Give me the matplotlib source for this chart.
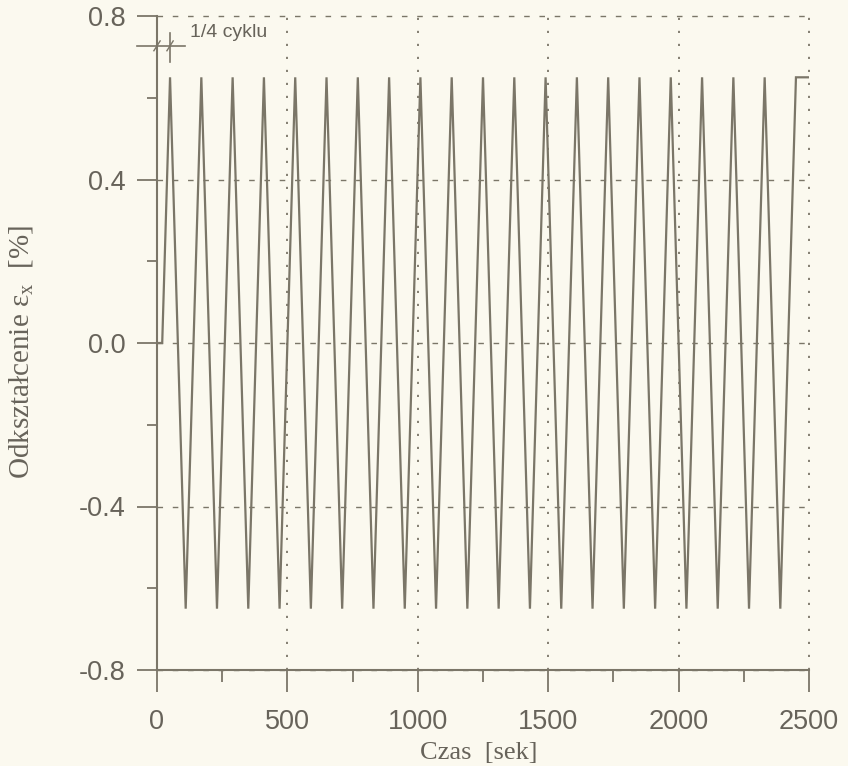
import matplotlib
matplotlib.use("Agg")
import matplotlib.pyplot as plt
from matplotlib.ticker import MultipleLocator

# ---- data ----
start_time = [0, 20]            # flat part at zero before loading starts
start_strain = [0.0, 0.0]
peak_times = [50, 170, 290, 410, 530, 650, 770, 890, 1010, 1130,
              1250, 1370, 1490, 1610, 1730, 1850, 1970, 2090, 2210, 2330]
trough_times = [110, 230, 350, 470, 590, 710, 830, 950, 1070, 1190,
                1310, 1430, 1550, 1670, 1790, 1910, 2030, 2150, 2270, 2390]
peak_strain = 0.65
trough_strain = -0.65
end_time = [2450, 2500]
end_strain = [0.65, 0.65]

x_ticks = [0, 500, 1000, 1500, 2000, 2500]
y_ticks = [-0.8, -0.4, 0.0, 0.4, 0.8]

# build the polyline
t = list(start_time)
e = list(start_strain)
for p, q in zip(peak_times, trough_times):
    t += [p, q]
    e += [peak_strain, trough_strain]
t += end_time
e += end_strain

# ---- style ----
BG = "#fbf9ef"
LINE = "#7b7668"
TXT = "#67635a"

fig = plt.figure(figsize=(8.48, 7.66), dpi=100, facecolor=BG)
ax = fig.add_axes([157/848, 96/766, 652/848, 654/766])
ax.set_facecolor(BG)

ax.plot(t, e, color=LINE, lw=1.6, solid_joinstyle="miter", zorder=3)

ax.set_xlim(0, 2500)
ax.set_ylim(-0.8, 0.8)
ax.set_xticks(x_ticks)
ax.set_yticks(y_ticks)
ax.xaxis.set_minor_locator(MultipleLocator(250))
ax.yaxis.set_minor_locator(MultipleLocator(0.2))
ax.set_xticklabels([str(v) for v in x_ticks])
ax.set_yticklabels([f"{v:.1f}" for v in y_ticks])

for s in ["top", "right"]:
    ax.spines[s].set_visible(False)
for s in ["left", "bottom"]:
    ax.spines[s].set_color(LINE)
    ax.spines[s].set_linewidth(1.5)
    ax.spines[s].set_zorder(4)

ax.tick_params(axis="x", which="major", direction="out", length=16, width=1.3,
               color=LINE, pad=12, labelcolor=TXT, labelsize=19.5)
ax.tick_params(axis="x", which="minor", direction="out", length=8.5, width=1.3,
               color=LINE)
ax.tick_params(axis="y", which="major", direction="out", length=14.5, width=1.3,
               color=LINE, pad=8, labelcolor=TXT, labelsize=19.5)
ax.tick_params(axis="y", which="minor", direction="out", length=7.5, width=1.3,
               color=LINE)
for lab in ax.get_xticklabels() + ax.get_yticklabels():
    lab.set_family("Liberation Sans")

# grid: dashed horizontal, dotted vertical
ax.grid(axis="y", which="major", color=LINE, lw=1.0, linestyle=(0, (4, 7)))
ax.grid(axis="x", which="major", color=LINE, lw=1.3, linestyle=(0, (1.2, 6)))
for gl in ax.get_xgridlines() + ax.get_ygridlines():
    gl.set_clip_on(False)

# labels
ax.set_xlabel("Czas  [sek]", family="Liberation Serif", size=19, color=TXT,
              va="center")
ax.xaxis.set_label_coords(0.493, -0.127)
ax.set_ylabel("Odkształcenie ε$_\\mathregular{x}$  [%]", family="Liberation Serif",
              size=21, color=TXT, va="center")
ax.yaxis.set_label_coords(-0.207, 0.486)

# "1/4 cyklu" annotation
ann_y = 0.727
ax.plot([-77, 107], [ann_y, ann_y], color=LINE, lw=1.2, clip_on=False)
ax.plot([50, 50], [0.758, 0.687], color=LINE, lw=1.2, clip_on=False)
for xm in [0, 50]:
    ax.plot([xm - 12, xm + 12], [ann_y - 0.012, ann_y + 0.012], color=LINE,
            lw=1.0, clip_on=False)
ax.text(127, 0.760, "1/4 cyklu", family="Liberation Sans", size=14,
        color=TXT, va="center", ha="left")

fig.savefig("out.png", dpi=100, facecolor=BG)
